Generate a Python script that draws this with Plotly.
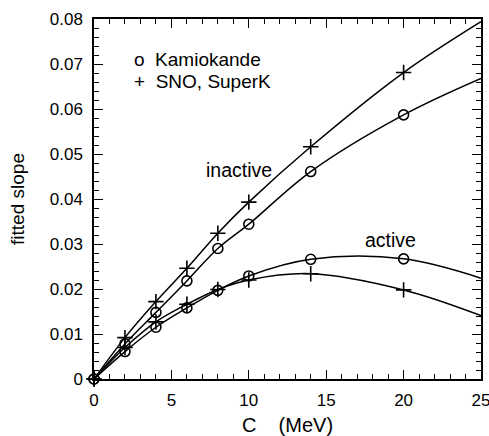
import plotly.graph_objects as go

# Data points (markers)
C = [0, 2, 4, 6, 8, 10, 14, 20]
kam_inactive = [0, 0.0078, 0.0148, 0.0218, 0.0290, 0.0344, 0.0461, 0.0587]
sno_inactive = [0, 0.0092, 0.0172, 0.0246, 0.0324, 0.0393, 0.0516, 0.0681]
kam_active = [0, 0.0061, 0.0115, 0.0158, 0.0197, 0.0229, 0.0266, 0.0267]
sno_active = [0, 0.0070, 0.0127, 0.0166, 0.0199, 0.0220, 0.0234, 0.0198]

# Fitted curves (smooth lines), extending to 25 MeV
C_curve = [0, 2, 4, 6, 8, 10, 14, 20, 25]
kam_inactive_curve = kam_inactive + [0.0668]
sno_inactive_curve = sno_inactive + [0.0794]
kam_active_curve = kam_active + [0.0224]
sno_active_curve = sno_active + [0.0141]

legend_labels = ["o\u00a0\u00a0Kamiokande", "+\u00a0\u00a0SNO, SuperK"]
curve_labels = ["inactive", "active"]

FONT = "Liberation Sans, Arial, Helvetica, sans-serif"
fig = go.Figure()

for ys in [kam_inactive_curve, sno_inactive_curve, kam_active_curve, sno_active_curve]:
    fig.add_trace(go.Scatter(x=C_curve, y=ys, mode="lines",
                             line=dict(color="black", width=1.5, shape="spline", smoothing=1.0),
                             showlegend=False, hoverinfo="skip", cliponaxis=False))

for ys in [kam_inactive, kam_active]:
    fig.add_trace(go.Scatter(x=C, y=ys, mode="markers",
                             marker=dict(symbol="circle-open", size=10, color="black",
                                         line=dict(width=1.6, color="black")),
                             showlegend=False, cliponaxis=False))
for ys in [sno_inactive, sno_active]:
    fig.add_trace(go.Scatter(x=C, y=ys, mode="markers",
                             marker=dict(symbol="cross-thin-open", size=11, color="black",
                                         line=dict(width=1.6, color="black")),
                             showlegend=False, cliponaxis=False))

ann_font = dict(family=FONT, size=19.5, color="black")
legend_text = "<br>".join('<span style="font-size:19px">%s</span>' % s for s in legend_labels)
fig.add_annotation(x=2.44, y=0.0686, xref="x", yref="y", text=legend_text,
                   showarrow=False, xanchor="left", yanchor="middle", align="left",
                   font=dict(family=FONT, size=17, color="black"))
fig.add_annotation(x=7.1, y=0.0464, xref="x", yref="y", text=curve_labels[0],
                   showarrow=False, xanchor="left", yanchor="middle", font=ann_font)
fig.add_annotation(x=17.35, y=0.0309, xref="x", yref="y", text=curve_labels[1],
                   showarrow=False, xanchor="left", yanchor="middle", font=ann_font)

axis_common = dict(showline=True, linecolor="black", linewidth=1.5, mirror="ticks",
                   ticks="inside", ticklen=9, tickwidth=1.3, tickcolor="black",
                   showgrid=False, zeroline=False, automargin=False,
                   ticklabeloverflow="allow",
                   tickfont=dict(family=FONT, size=17, color="black"))

fig.update_xaxes(range=[0, 25], dtick=5, tick0=0,
                 minor=dict(ticks="inside", dtick=1, ticklen=5, tickwidth=1.2, tickcolor="black", showgrid=False),
                 title=dict(text="C\u00a0\u00a0\u00a0\u00a0(MeV)", font=dict(family=FONT, size=20, color="black"), standoff=14),
                 ticklabelstandoff=5,
                 **axis_common)
fig.update_yaxes(range=[0, 0.08], dtick=0.01, tick0=0,
                 minor=dict(ticks="inside", dtick=0.002, ticklen=5, tickwidth=1.2, tickcolor="black", showgrid=False),
                 title=dict(text="fitted slope", font=dict(family=FONT, size=19, color="black"), standoff=20),
                 ticklabelstandoff=6,
                 **axis_common)

fig.update_layout(width=489, height=436, margin=dict(l=94, r=8, t=19, b=57),
                  plot_bgcolor="white", paper_bgcolor="white", showlegend=False)

fig.write_html("out.html")
